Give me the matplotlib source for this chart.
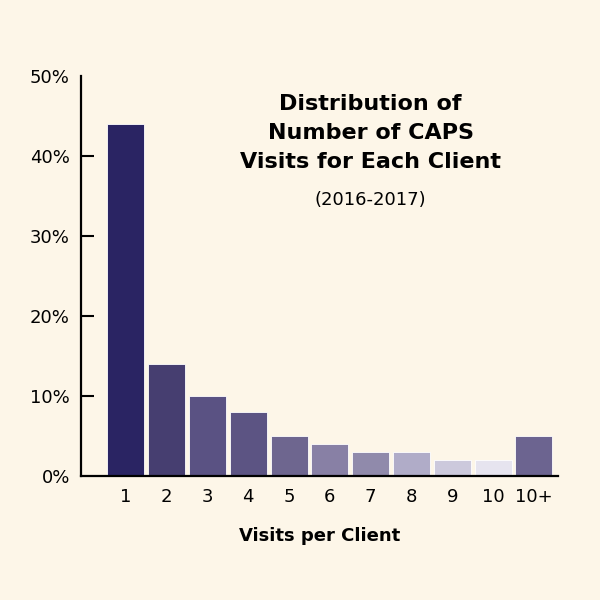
import matplotlib
matplotlib.use('Agg')
from matplotlib import pyplot as plt

visits = ['1', '2', '3', '4', '5', '6', '7', '8', '9', '10', '10+']
shares = [44, 14, 10, 8, 5, 4, 3, 3, 2, 2, 5]
colours = ['#2a2463', '#463e70', '#5a5283', '#5c5483', '#6e668f', '#8880a5',
           '#908aab', '#b0acc8', '#ccc9dc', '#e6e4ef', '#6c6490']
y_ticks = [0, 10, 20, 30, 40, 50]

bg = '#fdf6e8'
plt.rcParams['font.family'] = ['DejaVu Sans']

fig = plt.figure(figsize=(6, 6), dpi=100, facecolor=bg)
ax = fig.add_axes([0.135, 0.2067, 0.795, 0.6667], facecolor=bg)

x = range(len(visits))
ax.bar(x, shares, width=0.91, color=colours, edgecolor='#ffffff', linewidth=0.6, zorder=2)

ax.set_xlim(-1.1, 10.59)
ax.set_ylim(0, 50)
ax.set_xticks(list(x))
ax.set_xticklabels(visits, fontsize=13)
ax.set_yticks(y_ticks)
ax.set_yticklabels([f'{t}%' for t in y_ticks], fontsize=13)
ax.tick_params(axis='x', length=0, pad=9)
ax.tick_params(axis='y', direction='in', length=9, width=1.5, pad=8)
# no tick marks at the two ends of the y axis
ticks = ax.yaxis.get_major_ticks()
ticks[0].tick1line.set_visible(False)
ticks[-1].tick1line.set_visible(False)

for s in ['top', 'right']:
    ax.spines[s].set_visible(False)
ax.spines['left'].set_linewidth(1.6)
ax.spines['bottom'].set_linewidth(1.6)

ax.set_xlabel('Visits per Client', fontsize=13, fontweight='bold', labelpad=15)

ax.text(0.607, 0.955, 'Distribution of\nNumber of CAPS\nVisits for Each Client',
        transform=ax.transAxes, ha='center', va='top', fontsize=16,
        fontweight='bold', linespacing=1.55)
ax.text(0.607, 0.69, '(2016-2017)', transform=ax.transAxes, ha='center',
        va='center', fontsize=13)

fig.savefig('out.png', dpi=100, facecolor=bg)
